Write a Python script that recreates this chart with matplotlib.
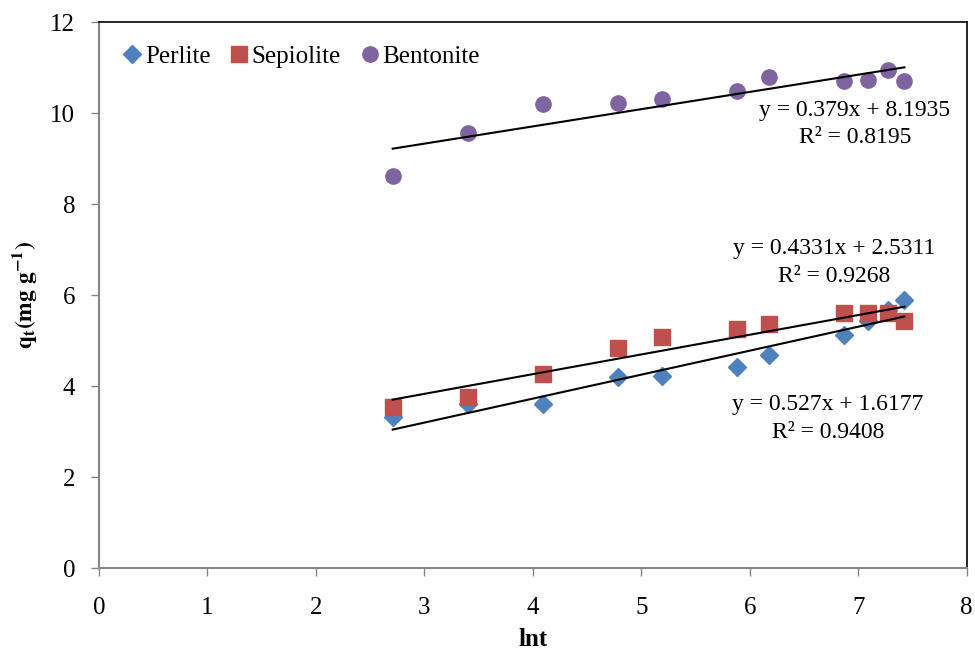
import numpy as np
import matplotlib
matplotlib.use("Agg")
import matplotlib.pyplot as plt

plt.rcParams['font.family'] = ['Liberation Serif', 'DejaVu Serif']
plt.rcParams['mathtext.fontset'] = 'stix'

lnt = [2.708, 3.401, 4.094, 4.787, 5.193, 5.886, 6.174, 6.867, 7.090, 7.272, 7.426]
perlite = [3.32, 3.60, 3.60, 4.20, 4.22, 4.42, 4.68, 5.12, 5.43, 5.67, 5.89]
sepiolite = [3.54, 3.76, 4.26, 4.84, 5.08, 5.25, 5.36, 5.60, 5.60, 5.60, 5.43]
bentonite = [8.62, 9.56, 10.20, 10.22, 10.31, 10.48, 10.79, 10.70, 10.73, 10.95, 10.70]

fits = {
    'Perlite': (0.527, 1.6177, 0.9408),
    'Sepiolite': (0.4331, 2.5311, 0.9268),
    'Bentonite': (0.379, 8.1935, 0.8195),
}
eq_labels = {
    'Perlite': ("y = 0.527x + 1.6177", "R² = 0.9408"),
    'Sepiolite': ("y = 0.4331x + 2.5311", "R² = 0.9268"),
    'Bentonite': ("y = 0.379x + 8.1935", "R² = 0.8195"),
}
x_ticks = [0, 1, 2, 3, 4, 5, 6, 7, 8]
y_ticks = [0, 2, 4, 6, 8, 10, 12]

colors = {'Perlite': '#4F81BD', 'Sepiolite': '#C0504D', 'Bentonite': '#8064A2'}
markers = {'Perlite': ('D', 9), 'Sepiolite': ('s', 11), 'Bentonite': ('o', 11)}

fig = plt.figure(figsize=(9.75, 6.53), dpi=100)
ax = fig.add_axes([0.1015, 0.130, 0.890, 0.836])

series = {'Perlite': perlite, 'Sepiolite': sepiolite, 'Bentonite': bentonite}
for name, vals in series.items():
    m, ms = markers[name]
    ax.plot(lnt, vals, linestyle='none', marker=m, markersize=ms,
            color=colors[name], markeredgecolor=colors[name], label=name, zorder=3)

for name in series:
    a, b, r2 = fits[name]
    xs = np.array([min(lnt), max(lnt)])
    ax.plot(xs, a * xs + b, color='black', lw=1.5, zorder=4)

txt_pos = {'Bentonite': (6.97, 10.07, 9.47),
           'Sepiolite': (6.78, 7.03, 6.40),
           'Perlite': (6.72, 3.60, 2.99)}
for name, (xc, y1, y2) in txt_pos.items():
    e, r = eq_labels[name]
    ax.text(xc, y1, e, ha='center', va='center', fontsize=17, zorder=5)
    ax.text(xc, y2, r, ha='center', va='center', fontsize=17, zorder=5)

ax.set_xlim(0, 8)
ax.set_ylim(0, 12)
ax.set_xticks(x_ticks)
ax.set_yticks(y_ticks)
ax.tick_params(axis='both', direction='out', length=6, color='#868686',
               labelsize=18, width=1)
ax.tick_params(axis='x', pad=15)
ax.tick_params(axis='y', pad=11)
for s in ['left', 'bottom']:
    ax.spines[s].set_color('#868686')
    ax.spines[s].set_linewidth(1.5)
for s in ['top', 'right']:
    ax.spines[s].set_color('black')
    ax.spines[s].set_linewidth(1.2)

ax.set_xlabel('lnt', fontsize=18, fontweight='bold', labelpad=6)
ax.set_ylabel(r'$\mathbf{q_t(mg\ g^{-1})}$', fontsize=17, labelpad=8)

ax.legend(loc='upper left', ncol=3, frameon=False, fontsize=18,
          handletextpad=0.0, columnspacing=0.65, borderaxespad=0.3,
          bbox_to_anchor=(0.004, 0.99), handlelength=1.0)

fig.savefig('out.png', dpi=100)
